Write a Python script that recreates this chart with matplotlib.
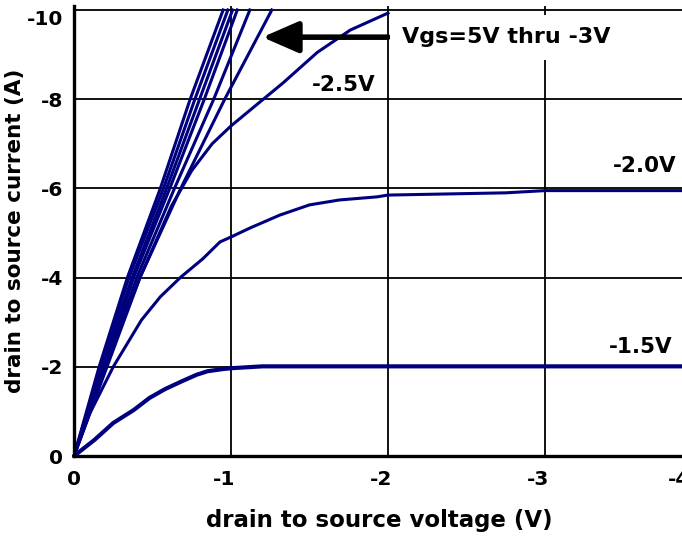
import numpy as np
import matplotlib.pyplot as plt
from matplotlib.transforms import ScaledTranslation

# Vgs = 5V thru -3V bundle: drain-source voltage at each current step
ids_bundle = [0, -2, -4, -6, -8, -10]
vds_bundle_1 = [0, -0.16, -0.34, -0.55, -0.74, -0.95]
vds_bundle_2 = [0, -0.17, -0.35, -0.57, -0.77, -0.98]
vds_bundle_3 = [0, -0.18, -0.37, -0.59, -0.80, -1.01]
vds_bundle_4 = [0, -0.19, -0.38, -0.61, -0.83, -1.04]
vds_bundle_5 = [0, -0.20, -0.40, -0.64, -0.89, -1.12]
vds_bundle_6 = [0, -0.21, -0.42, -0.68, -0.96, -1.26]

# Vgs = -2.5V
vds_m25 = [0, -0.10, -0.20, -0.42, -0.62, -0.75, -0.88, -1.00, -1.12, -1.33, -1.55, -1.76, -2.00]
ids_m25 = [0, -1.0, -2.0, -4.0, -5.6, -6.4, -7.0, -7.4, -7.75, -8.36, -9.05, -9.55, -9.93]

# Vgs = -2.0V
vds_m20 = [0, -0.10, -0.25, -0.43, -0.55, -0.68, -0.82, -0.93, -1.00, -1.12, -1.31, -1.50,
           -1.69, -1.93, -2.00, -2.75, -3.00, -4.00]
ids_m20 = [0, -0.95, -2.0, -3.05, -3.57, -4.01, -4.42, -4.80, -4.91, -5.11, -5.40, -5.63,
           -5.74, -5.81, -5.85, -5.90, -5.95, -5.95]

# Vgs = -1.5V
vds_m15 = [0, -0.13, -0.25, -0.38, -0.48, -0.58, -0.69, -0.78, -0.85, -0.95, -1.01, -1.20, -4.00]
ids_m15 = [0, -0.36, -0.74, -1.03, -1.30, -1.50, -1.68, -1.82, -1.90, -1.95, -1.97, -2.01, -2.01]

xticks = [0, -1, -2, -3, -4]
yticks = [0, -2, -4, -6, -8, -10]

navy = '#00007f'

fig = plt.figure(figsize=(6.82, 5.42), dpi=100)
ax = fig.add_axes([74 / 682, 86 / 542, 628 / 682, 449.6 / 542])

for vds in [vds_bundle_1, vds_bundle_2, vds_bundle_3, vds_bundle_4, vds_bundle_5, vds_bundle_6]:
    ax.plot(vds, ids_bundle, color=navy, lw=2.2, zorder=3, clip_on=False)
ax.plot(vds_m25, ids_m25, color=navy, lw=2.2, zorder=3)
ax.plot(vds_m20, ids_m20, color=navy, lw=2.2, zorder=3)
ax.plot(vds_m15, ids_m15, color=navy, lw=3.0, zorder=3)

ax.set_xlim(0, -4)
ax.set_ylim(0, -10.08)
ax.set_xticks(xticks)
ax.set_xticklabels([str(t) for t in xticks])
ax.set_yticks(yticks)
ax.set_yticklabels([str(t) for t in yticks])
ax.tick_params(length=0, labelsize=14.5)
ax.tick_params(axis='x', pad=10)
ax.tick_params(axis='y', pad=8)
for lbl in ax.get_xticklabels() + ax.get_yticklabels():
    lbl.set_fontweight('bold')

# negative x labels sit with the digit on the gridline; the last one is pulled in to the edge
for lbl in ax.get_xticklabels():
    if lbl.get_text().startswith('-'):
        shift = 4 if lbl.get_text() != '-4' else -12
        lbl.set_ha('right')
        lbl.set_transform(lbl.get_transform() + ScaledTranslation(shift / 100, 0, fig.dpi_scale_trans))
ax.get_yticklabels()[-1].set_va('top')

ax.grid(True, color='black', lw=1.3, zorder=1)
ax.set_axisbelow(True)
for side in ['top', 'right']:
    ax.spines[side].set_visible(False)
for side in ['left', 'bottom']:
    ax.spines[side].set_linewidth(2.4)
    ax.spines[side].set_zorder(4)

ax.set_xlabel('drain to source voltage (V)', fontsize=16.5, fontweight='bold')
ax.xaxis.set_label_coords(0.486, -0.118)
ax.set_ylabel('drain to source current (A)', fontsize=15.5, fontweight='bold')
ax.yaxis.set_label_coords(-0.078, 0.5)

ax.annotate('', xy=(-1.20, -9.39), xytext=(-2.0, -9.39),
            arrowprops=dict(arrowstyle='-|>,head_length=1.1,head_width=0.48', lw=4,
                            color='black', mutation_scale=20, shrinkA=0, shrinkB=0),
            zorder=5)
ax.text(-2.09, -9.39, 'Vgs=5V thru -3V', fontsize=16, fontweight='bold', ha='left', va='center',
        bbox=dict(facecolor='white', edgecolor='none', pad=9), zorder=5)
ax.text(-1.92, -8.32, '-2.5V', fontsize=15.5, fontweight='bold', ha='right', va='center', zorder=5)
ax.text(-3.84, -6.50, '-2.0V', fontsize=15.5, fontweight='bold', ha='right', va='center', zorder=5)
ax.text(-3.81, -2.44, '-1.5V', fontsize=15.5, fontweight='bold', ha='right', va='center', zorder=5)

plt.savefig('out.png', dpi=100)
